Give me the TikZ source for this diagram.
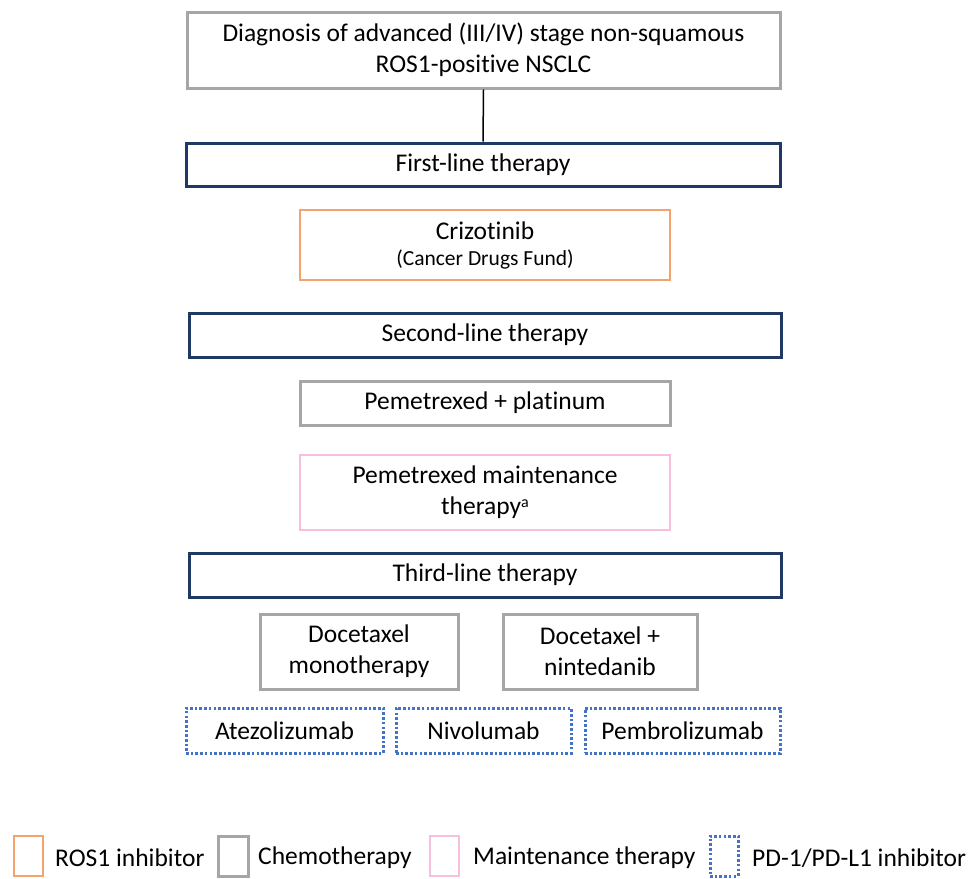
\documentclass[tikz,border=0pt]{standalone}
\usepackage{fontspec}
\setmainfont[Ligatures=NoCommon]{Carlito}
\definecolor{navy}{HTML}{1F3864}
\definecolor{chemo}{HTML}{A6A6A6}
\definecolor{ros}{HTML}{F4A46A}
\definecolor{maint}{HTML}{F7BEDF}
\definecolor{pdl}{HTML}{4472C4}
\begin{document}
\begin{tikzpicture}[x=1pt,y=-1pt,
  base/.style={rectangle, inner sep=0pt, align=center, font=\fontsize{25.5}{31}\selectfont, text=black},
  linebox/.style={base, draw=navy, line width=3pt},
  chemobox/.style={base, draw=chemo, line width=3pt},
  rosbox/.style={base, draw=ros, line width=1.4pt},
  maintbox/.style={base, draw=maint, line width=1.4pt},
  pdbox/.style={base, draw=pdl, line width=3pt, dash pattern=on 2.6pt off 2.1pt},
  legtext/.style={anchor=west, inner sep=0pt, font=\fontsize{25.5}{30}\selectfont}]
\useasboundingbox (0,0) rectangle (973,878);
\node[chemobox, minimum width=593pt, minimum height=76pt] (diag) at (483.5,50) {Diagnosis of advanced (III/IV) stage non-squamous\\ROS1-positive NSCLC};
\node[linebox, minimum width=594pt, minimum height=43pt] (first) at (483,164.5) {First-line therapy};
\draw[line width=1.5pt] (diag.south) -- (first.north);
\node[rosbox, minimum width=370pt, minimum height=70pt] (criz) at (485,245) {\raisebox{-3pt}{Crizotinib}\\[-5pt]\raisebox{-3pt}{\fontsize{21.5}{24}\selectfont (Cancer Drugs Fund)}};
\node[linebox, minimum width=592pt, minimum height=44pt] (second) at (485,335) {Second-line therapy};
\node[chemobox, minimum width=370pt, minimum height=44pt] (pemplat) at (485,403) {Pemetrexed + platinum};
\node[maintbox, minimum width=370pt, minimum height=75pt] (pemmaint) at (485,492.5) {Pemetrexed maintenance\\therapy\raisebox{0.6ex}{\fontsize{16}{16}\selectfont a}};
\node[linebox, minimum width=592pt, minimum height=44pt] (third) at (485,575) {Third-line therapy};
\node[chemobox, minimum width=198pt, minimum height=75pt] (doc) at (359,651.5) {Docetaxel\\monotherapy};
\node[chemobox, minimum width=194pt, minimum height=75pt] (docnin) at (600,651.5) {Docetaxel +\\nintedanib};
\node[pdbox, minimum width=197pt, minimum height=45pt] (atezo) at (284.5,730.5) {Atezolizumab};
\node[pdbox, minimum width=175pt, minimum height=45pt] (nivo) at (483.5,730.5) {Nivolumab};
\node[pdbox, minimum width=195pt, minimum height=45pt] (pembro) at (682.5,730.5) {Pembrolizumab};
% legend
\node[rosbox, minimum width=29pt, minimum height=40pt] (l1) at (28.5,856) {};
\node[legtext] (t1) at (55,858) {ROS1 inhibitor};
\node[chemobox, minimum width=30pt, minimum height=40pt] (l2) at (233,856) {};
\node[legtext] (t2) at (258,858) {Chemotherapy};
\node[maintbox, minimum width=29pt, minimum height=40pt] (l3) at (444.5,856) {};
\node[legtext] (t3) at (473,858) {Maintenance therapy};
\node[pdbox, minimum width=28pt, minimum height=40pt] (l4) at (724,856) {};
\node[legtext] (t4) at (752,858) {PD-1/PD-L1 inhibitor};
\end{tikzpicture}
\end{document}
